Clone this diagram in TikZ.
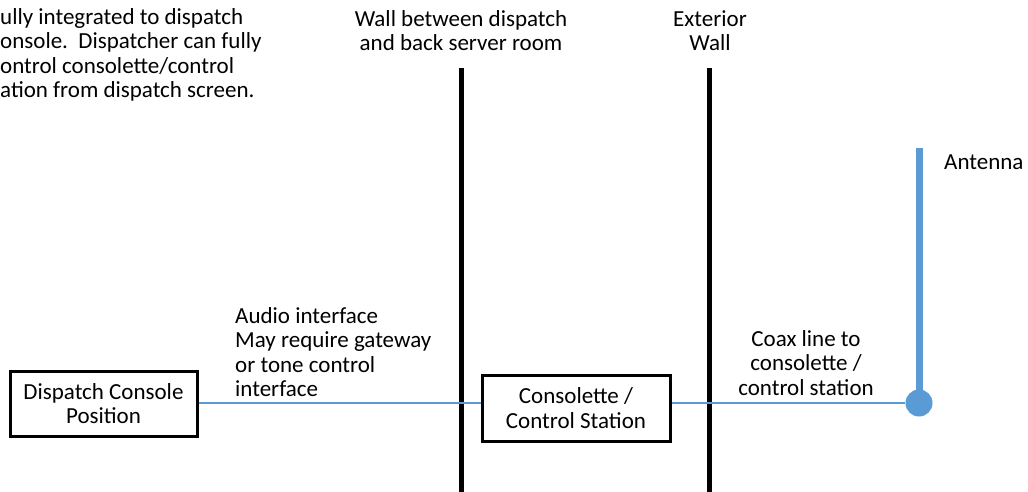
\documentclass[tikz,border=0pt]{standalone}
\usepackage{fontspec}
\setmainfont{Carlito}
\definecolor{offblue}{HTML}{5B9BD5}
\begin{document}
\begin{tikzpicture}[x=1pt,y=-1pt,
  txt/.style={inner sep=0pt, font=\fontsize{23}{24.5}\selectfont},
  box/.style={draw=black, line width=3pt, inner sep=0pt, align=center, font=\fontsize{23}{24.5}\selectfont},
  wall/.style={draw=black, line width=5pt},
  link/.style={draw=offblue, line width=2pt}]
\useasboundingbox (0,0) rectangle (1028,492);
\node[txt, align=left, anchor=west] (note) at (0,55) {ully integrated to dispatch\\onsole.\ \ Dispatcher can fully\\ontrol consolette/control\\ation from dispatch screen.};
\node[txt, align=center] (wlabel) at (461,30.5) {Wall between dispatch\\and back server room};
\node[txt, align=center] (elabel) at (710,30.5) {Exterior\\Wall};
\coordinate (w1t) at (461,68);
\coordinate (w1b) at (461,492);
\coordinate (w2t) at (709,68);
\coordinate (w2b) at (709,492);
\draw[wall] (w1t) -- (w1b);
\draw[wall] (w2t) -- (w2b);
\node[box, minimum width=187, minimum height=65] (dcp) at (103.5,403.5) {Dispatch Console\\Position};
\node[box, minimum width=188, minimum height=66] (cs) at (576,408) {Consolette /\\Control Station};
\coordinate (antop) at (919,148);
\node[circle, fill=offblue, inner sep=0pt, minimum size=27] (ant) at (919,403) {};
\draw[offblue, line width=7pt] (antop) -- (ant.center);
\node[txt, anchor=west] (antlabel) at (944,162) {Antenna};
\draw[link] (dcp.east |- 0,403) -- (cs.west |- 0,403);
\draw[link] (cs.east |- 0,403) -- (ant);
\node[txt, align=left, anchor=west] (audio) at (235,352) {Audio interface\\May require gateway\\or tone control\\interface};
\node[txt, align=center] (coax) at (806,363) {Coax line to\\consolette /\\control station};
\end{tikzpicture}
\end{document}
